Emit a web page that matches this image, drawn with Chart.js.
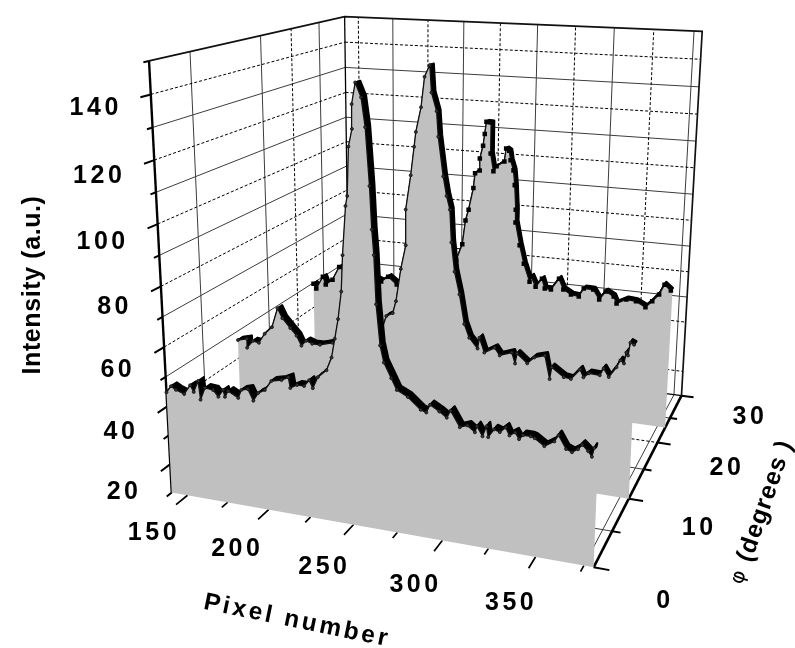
<!DOCTYPE html>
<html><head><meta charset="utf-8"><style>html,body{margin:0;padding:0;background:#fff}canvas{display:block}</style>
<script src="https://cdn.jsdelivr.net/npm/chart.js"></script></head><body>
<canvas id="c" width="795" height="648" style="width:795px;height:648px"></canvas>
<script>
// ---------- data ----------
const pixelTicks=[150,200,250,300,350];
const pixelMinorTicks=[175,225,275,325,375];
const intensityTicks=[20,40,60,80,100,120,140];
const intensityMinorTicks=[10,30,50,70,90,110,130,150];
const phiTicks=[0,10,20,30];
const phiMinorTicks=[5,15,25];
const phiFront=0, phiMiddle=10, phiBack=23;
const pixelFront=[140,143,146,151,155,157,160,161,164,169,172,175,176,178,184,186,190,193,196,200,204,210,214,215,219,223,226,228,231,236,239,241,243,245,246,248,249,250,252,252,254,257,259,261,262,263,264,266,268,272,275,281,288,291,293,298,302,304,309,313,317,318,321,323,324,327,330,333,335,338,340,342,346,348,353,358,360,364,367,370,372,375,377,378];
const intensityFront=[44.8,47.1,46.1,45.1,48.4,46.3,50.2,44.0,48.2,47.9,45.9,48.4,46.2,48.3,46.5,49.3,49.9,46.3,49.1,50.4,53.7,54.5,55.7,52.3,53.6,53.6,55.7,53.3,57.1,59.7,64.0,70.1,76.4,85.1,96.3,111.2,114.2,128.7,133.9,141.0,147.2,143.1,134.7,117.7,104.9,97.3,82.4,69.8,64.6,60.0,56.5,54.8,51.3,50.7,53.3,51.6,50.0,52.4,47.6,48.5,46.7,48.7,45.8,49.1,45.8,48.5,47.9,49.6,47.3,48.5,46.6,48.0,48.0,47.6,45.6,47.5,49.6,45.7,45.0,46.2,47.7,46.1,44.5,47.3];
const pixelMiddle=[140,146,146,150,154,158,163,167,170,175,179,182,185,189,194,202,213,222,228,233,236,240,242,245,248,248,251,253,254,257,259,262,263,266,267,270,272,274,275,277,280,283,286,291,292,295,301,304,311,313,314,320,324,330,333,334,341,345,350,352,355,361,363,366,370,372,374,375,376,377,379];
const intensityMiddle=[46.7,47.6,44.3,47.1,46.7,50.3,53.1,60.2,56.8,53.6,51.1,47.7,49.7,48.9,48.9,50.2,52.5,54.1,54.6,56.7,62.1,63.4,67.7,79.0,87.2,99.2,110.7,120.1,124.9,132.9,142.6,146.4,137.8,132.0,123.9,111.2,104.9,100.5,89.7,80.0,72.5,62.6,58.1,54.7,58.5,53.6,55.7,53.3,54.8,51.2,54.7,51.8,54.1,55.2,47.4,51.5,48.7,48.4,52.0,49.5,51.1,50.9,53.4,50.7,54.3,56.8,55.9,59.6,58.7,63.0,62.5];
const pixelBack=[140,142,147,149,154,159,166,177,185,189,194,200,203,215,229,241,245,247,249,252,253,256,256,258,259,260,262,263,263,265,267,272,273,275,276,278,279,280,280,283,286,290,291,294,298,300,304,309,312,317,322,325,331,335,339,344,346,352,358,364,368,372,375,379];
const intensityBack=[49.6,47.8,52.9,49.9,52.1,57.6,55.3,55.9,54.5,53.6,55.8,53.1,50.5,55.2,58.0,65.3,71.6,80.8,85.0,93.3,98.9,100.1,104.5,109.3,113.7,118.2,118.1,118.1,106.7,100.2,102.1,104.1,108.9,108.2,104.7,101.1,95.7,86.6,81.8,73.4,66.5,59.9,61.9,58.2,61.5,57.9,57.8,62.2,58.3,56.7,56.3,59.5,59.5,56.0,59.3,57.7,55.2,57.1,56.8,55.0,57.5,60.3,64.1,62.2];
const pixelRange=[140,380], phiRange=[0,30], intensityRange=[10,150];
// ---------- camera ----------
const CAM={a:[363.65,283.4,-35.51,169],b:[15.3,-37.57,-442.9,495],c:[-.10629,.2977,-.0857,1]};
function P(pixel,phi,I){
  const u=(pixel-pixelRange[0])/(pixelRange[1]-pixelRange[0]),v=(phi-phiRange[0])/(phiRange[1]-phiRange[0]),w=(I-intensityRange[0])/(intensityRange[1]-intensityRange[0]);
  const d=CAM.c[0]*u+CAM.c[1]*v+CAM.c[2]*w+CAM.c[3];
  return {x:(CAM.a[0]*u+CAM.a[1]*v+CAM.a[2]*w+CAM.a[3])/d,y:(CAM.b[0]*u+CAM.b[1]*v+CAM.b[2]*w+CAM.b[3])/d};
}
const datasets=[];
const add=(data,o)=>datasets.push(Object.assign({data,showLine:true,pointRadius:0,borderColor:'#000',borderWidth:1,tension:0,fill:false},o));
const BREAK={x:NaN,y:NaN};
const sol={borderColor:'#3c3c3c',borderWidth:1}, dash={borderColor:'#000',borderWidth:1,borderDash:[3,2]};
const [p0,p1]=pixelRange,[f0,f1]=phiRange,[i0,i1]=intensityRange;
const multi=(list,fn)=>list.flatMap(t=>[...fn(t),BREAK]);
const inner=a=>a.filter(t=>t!==i0&&t!==i1&&t!==f0&&t!==f1);
// grids: back wall, left wall, floor
function grid(px,ph,it,o){
  add(multi(px,t=>[P(t,f1,i0),P(t,f1,i1)]),o);
  add(multi(it,t=>[P(p0,f1,t),P(p1,f1,t)]),o);
  add(multi(it,t=>[P(p0,f0,t),P(p0,f1,t)]),o);
  add(multi(ph,t=>[P(p0,t,i0),P(p0,t,i1)]),o);
  add(multi(px,t=>[P(t,f0,i0),P(t,f1,i0)]),o);
  add(multi(ph,t=>[P(p0,t,i0),P(p1,t,i0)]),o);
}
grid(pixelMinorTicks,phiMinorTicks,inner(intensityMinorTicks),sol);
grid(pixelTicks,inner(phiTicks),intensityTicks,dash);
// frame
add([P(p0,f0,i1),P(p0,f1,i1),P(p1,f1,i1),P(p1,f1,i0)],{borderWidth:1.7,borderColor:'#111'});
add([P(p0,f1,i1),P(p0,f1,i0)],{borderWidth:1.3});
add([P(p0,f1,i0),P(p1,f1,i0)],{borderWidth:1.2});
add([P(p0,f0,i1),P(p0,f0,i0)],{borderWidth:2.4});
add([P(p1,f0,i0),P(p1,f1,i0)],{borderWidth:2.6});
// ticks
add(multi(intensityTicks,t=>[P(p0,f0,t),P(p0,f0-1.2,t)]),{borderWidth:2});
add(multi(intensityMinorTicks,t=>[P(p0,f0,t),P(p0,f0-.65,t)]),{borderWidth:2});
add(multi(pixelTicks,t=>[P(t,f0,i0),P(t,f0-1.5,i0)]),{borderWidth:1.7});
add(multi(pixelMinorTicks,t=>[P(t,f0,i0),P(t,f0-.8,i0)]),{borderWidth:1.7});
add(multi(phiTicks,t=>[P(p1,t,i0),P(p1+8,t,i0)]),{borderWidth:2});
add(multi(phiMinorTicks,t=>[P(p1,t,i0),P(p1+4.5,t,i0)]),{borderWidth:2});
// sheets, back to front
function sheet(px,ints,phi,marker,w){
  for(let k=5;k>=1;k--) add(px.map((p,i)=>P(p,phi+k*.15,ints[i])),{borderWidth:w,borderJoinStyle:'round',borderCapStyle:'round'});
  const n=px.length;
  add([...px.map((p,i)=>P(p,phi,ints[i])),P(p1,phi,ints[n-1]),P(p1,phi,i0),P(p0,phi,i0)],{borderWidth:0,sheetFill:'#c0c0c0'});
  add(px.map((p,i)=>P(p,phi,ints[i])),Object.assign({borderWidth:1.3,borderColor:'#111',borderJoinStyle:'round'},marker));
}
const circle={pointStyle:'circle',pointRadius:1.5,pointBackgroundColor:'#333',pointBorderColor:'#111',pointBorderWidth:.8};
const square={pointStyle:'rect',pointRadius:3.2,pointBackgroundColor:'#000',pointBorderColor:'#000',pointBorderWidth:0};
sheet(pixelBack,intensityBack,phiBack,square,2.4);
sheet(pixelMiddle,intensityMiddle,phiMiddle,circle,2.2);
sheet(pixelFront,intensityFront,phiFront,circle,2.2);
datasets.forEach((d,i)=>d.order=datasets.length-i);
const FONT='"Liberation Sans"';
function label(ctx,t,x,y,font,spacing,angle,align){
  ctx.save();ctx.translate(x,y);ctx.rotate((angle||0)*Math.PI/180);ctx.font=font;ctx.letterSpacing=(spacing||0)+'px';ctx.textAlign=align||'center';ctx.textBaseline='middle';ctx.fillStyle='#000';ctx.fillText(t,0,0);ctx.restore();
}
const sheetPlugin={id:'sheet',beforeDatasetDraw(chart,args){
  const ds=chart.data.datasets[args.index];if(!ds.sheetFill)return;
  const pts=chart.getDatasetMeta(args.index).data,ctx=chart.ctx;
  ctx.save();ctx.beginPath();pts.forEach((e,i)=>i?ctx.lineTo(e.x,e.y):ctx.moveTo(e.x,e.y));ctx.closePath();ctx.fillStyle=ds.sheetFill;ctx.fill();ctx.restore();
}};
const textPlugin={id:'labels',afterDraw(chart){
  const ctx=chart.ctx,num='bold 25px '+FONT;
  intensityTicks.forEach(t=>{const q=P(p0,f0,t);label(ctx,String(t),q.x-26,q.y+17+(140-t)/120*9,num,3.5,0,'right');});
  pixelTicks.forEach(t=>{const q=P(t,f0,i0);label(ctx,String(t),q.x-31+(t-150)/200*5,q.y+35+(t-150)/200*8,num,3.5);});
  phiTicks.forEach(t=>{const q=P(p1,t,i0);label(ctx,String(t),q.x+65+(30-t)/30*4,q.y+20+(30-t)/3,num,3.5);});
  label(ctx,'Intensity (a.u.)',33,285,'bold 25px '+FONT,0.6,-90);
  label(ctx,'Pixel number',297,621,'bold 24.5px '+FONT,3,11.5);
  ctx.save();ctx.translate(763,508);ctx.rotate(-71*Math.PI/180);ctx.textBaseline='middle';ctx.textAlign='left';ctx.fillStyle='#000';
  ctx.font='20px "DejaVu Sans"';ctx.fillText('φ',-80,0);ctx.font='bold 24.5px '+FONT;ctx.letterSpacing='1px';ctx.fillText(' (degrees )',-64,0);ctx.restore();
}};
new Chart(document.getElementById('c'),{type:'scatter',data:{datasets},plugins:[sheetPlugin,textPlugin],options:{
  responsive:false,animation:false,layout:{padding:0},
  plugins:{legend:{display:false},tooltip:{enabled:false},title:{display:false}},
  scales:{x:{type:'linear',min:0,max:795,display:false},y:{type:'linear',min:0,max:648,reverse:true,display:false}}
}});
</script></body></html>
